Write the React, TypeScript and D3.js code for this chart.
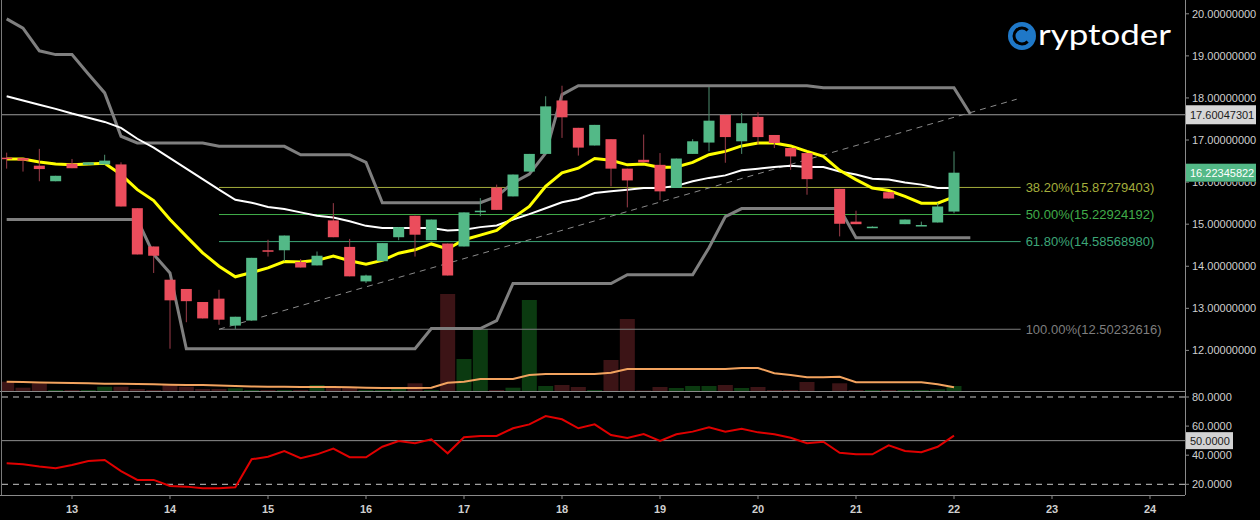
import React from "react";
import * as d3 from "d3";

const W = 1260;
const H = 520;

// 4h candles, the first one opens on day 12 at 08:00
const firstCandleDay = 12 + 8 / 24;
const candleStep = 4 / 24;

const opens: (number | null)[] = [
  16.58, 16.57, 16.39, 16.02, 16.44, 16.41, 16.42, 16.42, 15.38, 14.47,
  13.68, 13.46, 13.15, 13.23, 12.59, 12.71, 14.38, 14.38, 14.1, 14.02,
  15.09, 14.46, 13.64, 14.12, 14.69, 15.2, 14.62, 14.54, 14.47, 15.29,
  15.87, 15.66, 16.25, 16.67, 17.94, 17.29, 16.87, 17.02, 16.32, 16.53,
  16.41, 15.86, 16.67, 16.94, 17.6, 16.97, 17.55, 17.12, 16.81, 16.69,
  null, 15.84, 15.06, 14.93, 15.76, 15.0, 14.97, 15.04, 15.3,
];
const highs: (number | null)[] = [
  16.7, 16.58, 16.79, 16.15, 16.55, 16.47, 16.65, 16.47, 15.38, 14.47,
  13.68, 13.46, 13.15, 13.44, 12.8, 14.2, 14.63, 14.73, 14.17, 14.35,
  15.5, 14.65, 13.8, 14.55, 14.93, 15.2, 15.11, 14.54, 15.28, 15.62,
  15.94, 16.18, 16.67, 18.04, 18.29, 17.29, 17.36, 17.02, 16.32, 17.13,
  16.69, 16.56, 17.02, 18.26, 17.6, 17.64, 17.66, 17.12, 16.81, 16.69,
  null, 15.84, 15.32, 14.95, 15.76, 15.11, 15.06, 15.5, 16.73,
];
const lows: (number | null)[] = [
  16.32, 16.25, 16.02, 16.02, 16.33, 16.41, 16.42, 15.42, 14.28, 13.84,
  12.04, 12.67, 12.76, 12.61, 12.51, 12.71, 14.23, 14.12, 13.97, 14.02,
  14.69, 13.76, 13.6, 14.12, 14.62, 14.23, 14.62, 13.78, 14.47, 15.19,
  15.34, 15.66, 16.25, 16.67, 17.05, 16.63, 16.87, 15.9, 15.4, 16.47,
  15.57, 15.86, 16.67, 16.73, 16.46, 16.67, 16.89, 16.81, 16.29, 15.7,
  null, 14.71, 15.0, 14.93, 15.61, 15.0, 14.97, 15.04, 15.26,
];
const closes: (number | null)[] = [
  16.56, 16.51, 16.31, 16.15, 16.33, 16.47, 16.51, 15.42, 14.28, 14.25,
  13.19, 13.17, 12.76, 12.73, 12.8, 14.2, 14.36, 14.73, 13.97, 14.25,
  14.69, 13.76, 13.78, 14.55, 14.93, 14.75, 15.11, 13.78, 15.28, 15.32,
  15.34, 16.18, 16.67, 17.8, 17.54, 16.82, 17.36, 16.32, 16.04, 16.47,
  15.78, 16.56, 16.97, 17.46, 17.07, 17.4, 17.07, 16.93, 16.61, 16.07,
  null, 15.01, 15.0, 14.94, 15.61, 15.11, 14.98, 15.42, 16.22345822,
];
const volumes: (number | null)[] = [
  93, 33, 77, 10, 10, 10, 43, 43, 20, 10,
  60, 43, 20, 20, 27, 10, 10, 10, 10, 60,
  30, 30, 10, 10, 20, 77, 10, 970, 320, 620,
  10, 33, 910, 50, 60, 40, 10, 310, 720, 5,
  40, 30, 50, 50, 60, 30, 40, 10, 10, 90,
  null, 77, 10, 10, 10, 10, 10, 17, 50,
];
const volumeMa = [
  93, 90, 85, 83, 80, 77, 73, 73, 70, 67,
  63, 60, 60, 55, 50, 45, 43, 43, 40, 40,
  40, 37, 32, 30, 30, 30, 32, 83, 93, 120,
  120, 120, 160, 170, 170, 170, 170, 183, 220, 220,
  220, 220, 220, 220, 220, 230, 230, 177, 160, 137,
  137, 143, 87, 87, 87, 87, 87, 67, 37,
];
const emaFast = [
  16.55, 16.55, 16.48, 16.43, 16.41, 16.43, 16.45, 16.18, 15.82, 15.56,
  15.11, 14.71, 14.32, 14.0, 13.75, 13.85, 13.96, 14.11, 14.1, 14.14,
  14.24, 14.13, 14.05, 14.14, 14.31, 14.39, 14.53, 14.41, 14.63, 14.74,
  14.85, 15.15, 15.42, 15.9, 16.22, 16.33, 16.56, 16.52, 16.41, 16.43,
  16.35, 16.36, 16.47, 16.65, 16.73, 16.86, 16.93, 16.93, 16.86, 16.73,
  16.61, 16.28, 16.06, 15.86, 15.8, 15.66, 15.5, 15.5, 15.65,
];
const smaSlow = [
  18.04, 17.94, 17.84, 17.74, 17.63, 17.53, 17.43, 17.29, 17.03, 16.82,
  16.57, 16.32, 16.07, 15.82, 15.58, 15.51, 15.41, 15.36, 15.28, 15.2,
  15.16, 15.07, 14.96, 14.91, 14.91, 14.91, 14.91, 14.85, 14.87, 14.93,
  14.97, 15.11, 15.24, 15.38, 15.52, 15.6, 15.74, 15.78, 15.82, 15.86,
  15.86, 15.91, 16.02, 16.1, 16.16, 16.28, 16.32, 16.36, 16.39, 16.36,
  16.36, 16.25, 16.18, 16.08, 16.06, 15.99, 15.94, 15.86, 15.86,
];
const channelUpper = [
  19.88, 19.66, 19.12, 19.03, 19.03, 18.57, 18.12, 17.09, 16.93, 16.93,
  16.93, 16.93, 16.93, 16.85, 16.85, 16.85, 16.85, 16.85, 16.65, 16.65,
  16.65, 16.65, 16.47, 15.51, 15.51, 15.51, 15.51, 15.51, 15.51, 15.51,
  15.66, 15.98, 16.19, 16.69, 18.08, 18.29, 18.29, 18.29, 18.29, 18.29,
  18.29, 18.29, 18.29, 18.29, 18.29, 18.29, 18.29, 18.29, 18.29, 18.29,
  18.24, 18.24, 18.24, 18.24, 18.24, 18.24, 18.24, 18.24, 18.24, 17.62,
];
const channelLower = [
  15.11, 15.11, 15.11, 15.11, 15.11, 15.11, 15.11, 15.11, 15.11, 14.28,
  13.84, 12.04, 12.04, 12.04, 12.04, 12.04, 12.04, 12.04, 12.04, 12.04,
  12.04, 12.04, 12.04, 12.04, 12.04, 12.04, 12.52, 12.52, 12.52, 12.52,
  12.71, 13.59, 13.59, 13.59, 13.59, 13.59, 13.59, 13.59, 13.8, 13.8,
  13.8, 13.8, 13.8, 14.44, 15.18, 15.37, 15.37, 15.37, 15.37, 15.37,
  15.37, 15.37, 14.68, 14.68, 14.68, 14.68, 14.68, 14.68, 14.68, 14.68,
];
const rsi = [
  34.4, 33.7, 32.2, 31.0, 33.3, 36.0, 36.7, 29.1, 23.0, 23.0,
  18.8, 18.4, 17.3, 17.3, 17.9, 37.2, 39.0, 42.9, 37.9, 40.6,
  44.5, 38.6, 38.6, 45.8, 49.8, 48.2, 50.9, 41.3, 52.3, 53.2,
  53.2, 58.5, 61.2, 66.9, 64.7, 58.5, 61.2, 53.9, 51.8, 54.6,
  49.8, 54.4, 56.2, 59.2, 56.2, 58.2, 55.7, 54.4, 52.0, 48.2,
  49.3, 41.7, 40.6, 40.6, 46.8, 42.9, 42.0, 45.8, 53.4,
];

const days = [13, 14, 15, 16, 17, 18, 19, 20, 21, 22, 23, 24];
const priceTicks = [20, 19, 18, 17, 16, 15, 14, 13, 12];
const rsiTicks = [80, 60, 40, 20];
const rsiGuides = [80, 20];
const rsiMid = 50;

const fibLevels = [
  { label: "38.20%", value: 15.87279403, color: "#a4ae3c" },
  { label: "50.00%", value: 15.22924192, color: "#40ad4a" },
  { label: "61.80%", value: 14.5856898, color: "#3ca677" },
  { label: "100.00%", value: 12.50232616, color: "#7e7e7e" },
];
const fibStartDay = 14.5;
const fibEndDay = 22.68;

const trendStart = { day: 14.5, price: 12.50232616 };
const trendEnd = { day: 22.64, price: 17.97 };

const markLevel = 17.60047301;
const lastPrice = 16.22345822;

const UP = "#53b987";
const DOWN = "#eb4d5c";
const FONT = "'Liberation Sans', Arial, sans-serif";

export default function App() {
  const plotLeft = 2;
  const plotRight = 1185;
  const mainBottom = 391;
  const rsiBottom = 495;

  const x = d3.scaleLinear().domain([13, 24]).range([72, 1150]);
  const y = d3.scaleLinear().domain([12, 20]).range([350.4, 13.8]);
  const yVol = d3.scaleLinear().domain([0, 1000]).range([mainBottom, 291]);
  const yRsi = d3.scaleLinear().domain([20, 80]).range([484.3, 397]);

  const xi = (i: number) => x(firstCandleDay + i * candleStep);

  const lineOf = (scale: d3.ScaleLinear<number, number>) =>
    d3
      .line<number | null>()
      .defined((v) => v != null)
      .x((_, i) => xi(i))
      .y((v) => scale(v as number));

  const priceLine = lineOf(y);
  const volLine = lineOf(yVol);
  const rsiLine = lineOf(yRsi);

  const logoArc = d3
    .arc()
    .innerRadius(6.5)
    .outerRadius(9.5)
    .startAngle(Math.PI * 0.75)
    .endAngle(Math.PI * 2.25);

  // the last-price tag hides the upper half of the 16 tick label, as in the source
  const lastTagTop = y(lastPrice) - 9;
  const lastTagBottom = y(lastPrice) + 9;

  return (
    <div style={{ position: "absolute", left: 0, top: 0, width: W, height: H, background: "#000" }}>
      <svg width={W} height={H} style={{ display: "block" }}>
        <rect x={0} y={0} width={W} height={H} fill="#000" />
        <defs>
          <clipPath id="mainClip">
            <rect x={plotLeft} y={0} width={plotRight - plotLeft} height={mainBottom} />
          </clipPath>
          <clipPath id="belowTag">
            <rect x={plotRight} y={lastTagBottom} width={W - plotRight} height={mainBottom - lastTagBottom} />
          </clipPath>
        </defs>

        <g clipPath="url(#mainClip)">
          {/* volume */}
          {volumes.map((v, i) =>
            v == null ? null : (
              <rect
                key={"v" + i}
                x={xi(i) - 7.5}
                y={yVol(v)}
                width={15}
                height={mainBottom - yVol(v)}
                fill={(closes[i] as number) >= (opens[i] as number) ? "#0b3a10" : "#3c1416"}
              />
            )
          )}
          <path d={volLine(volumeMa) || ""} fill="none" stroke="#f2a35f" strokeWidth={2} />

          {/* levels */}
          <line x1={plotLeft} x2={plotRight} y1={y(markLevel)} y2={y(markLevel)} stroke="#9c9c9c" strokeWidth={1} />
          {fibLevels.map((f) => (
            <g key={f.label}>
              <line x1={x(fibStartDay)} x2={x(fibEndDay)} y1={y(f.value)} y2={y(f.value)} stroke={f.color} strokeWidth={1} />
              <text x={x(fibEndDay) + 5} y={y(f.value) + 4.5} fill={f.color} fontSize={13} fontFamily={FONT}>
                {`${f.label}(${f.value.toFixed(8)})`}
              </text>
            </g>
          ))}

          {/* channel */}
          <path d={priceLine(channelUpper) || ""} fill="none" stroke="#7f7f7f" strokeWidth={3} />
          <path d={priceLine(channelLower) || ""} fill="none" stroke="#7f7f7f" strokeWidth={3} />

          {/* trend */}
          <line
            x1={x(trendStart.day)}
            y1={y(trendStart.price)}
            x2={x(trendEnd.day)}
            y2={y(trendEnd.price)}
            stroke="#8a8a8a"
            strokeWidth={1}
            strokeDasharray="6,5"
          />

          <path d={priceLine(smaSlow) || ""} fill="none" stroke="#ffffff" strokeWidth={2} />
          <path d={priceLine(emaFast) || ""} fill="none" stroke="#ffff00" strokeWidth={3} />

          {/* candles */}
          {opens.map((o, i) => {
            if (o == null) return null;
            const c = closes[i] as number;
            const hi = highs[i] as number;
            const lo = lows[i] as number;
            const up = c >= o;
            const top = y(Math.max(o, c));
            const bh = Math.max(1.5, y(Math.min(o, c)) - top);
            return (
              <g key={"c" + i}>
                <line x1={xi(i)} x2={xi(i)} y1={y(hi)} y2={y(lo)} stroke={up ? "#4f8f70" : "#9b3d4a"} strokeWidth={1} />
                <rect x={xi(i) - 5.5} y={top} width={11} height={bh} fill={up ? UP : DOWN} />
              </g>
            );
          })}
        </g>

        {/* logo */}
        <g transform="translate(1022,36)">
          <circle r={14} fill="#1f78c8" />
          <path d={(logoArc as any)() || ""} fill="#000" />
        </g>
        <text x={1038} y={45} fill="#fff" fontSize={29} fontFamily="Lato, 'Noto Sans', sans-serif" textLength={133} lengthAdjust="spacingAndGlyphs">
          ryptoder
        </text>

        {/* RSI panel */}
        {rsiGuides.map((g) => (
          <line key={"g" + g} x1={plotLeft} x2={plotRight} y1={yRsi(g)} y2={yRsi(g)} stroke="#c8c8c8" strokeWidth={1} strokeDasharray="6,5" />
        ))}
        <line x1={plotLeft} x2={plotRight} y1={yRsi(rsiMid)} y2={yRsi(rsiMid)} stroke="#8e8e8e" strokeWidth={1} />
        <path d={rsiLine(rsi) || ""} fill="none" stroke="#e00000" strokeWidth={2} />

        {/* frames */}
        <line x1={0} x2={plotRight} y1={mainBottom + 0.5} y2={mainBottom + 0.5} stroke="#8a8a8a" />
        <line x1={0} x2={plotRight} y1={rsiBottom + 0.5} y2={rsiBottom + 0.5} stroke="#8a8a8a" />
        <line x1={1.5} x2={1.5} y1={0} y2={rsiBottom} stroke="#7a7a7a" />
        <line x1={plotRight + 0.5} x2={plotRight + 0.5} y1={0} y2={rsiBottom} stroke="#8a8a8a" />

        {/* price axis */}
        {priceTicks.map((p) => {
          const hidden = y(p) - 6 < lastTagBottom && y(p) + 6 > lastTagTop;
          return (
            <g key={"p" + p} clipPath={hidden ? "url(#belowTag)" : undefined}>
              <line x1={plotRight} x2={plotRight + 4} y1={y(p)} y2={y(p)} stroke="#8a8a8a" />
              <text x={1192} y={y(p) + 4} fill="#cfcfcf" fontSize={11} fontFamily={FONT}>
                {p.toFixed(8)}
              </text>
            </g>
          );
        })}
        <rect x={plotRight + 1} y={y(markLevel) - 9.5} width={70} height={19} fill="#d6d6d6" />
        <text x={1190} y={y(markLevel) + 4} fill="#1a1a1a" fontSize={11} fontFamily={FONT}>
          {markLevel.toFixed(8)}
        </text>
        <rect x={plotRight + 1} y={lastTagTop} width={70} height={18} fill={UP} />
        <text x={1190} y={y(lastPrice) + 4} fill="#ffffff" fontSize={11} fontFamily={FONT}>
          {lastPrice.toFixed(8)}
        </text>

        {/* rsi axis */}
        {rsiTicks.map((r) => (
          <g key={"r" + r}>
            <line x1={plotRight} x2={plotRight + 4} y1={yRsi(r)} y2={yRsi(r)} stroke="#8a8a8a" />
            <text x={1192} y={yRsi(r) + 4} fill="#cfcfcf" fontSize={11} fontFamily={FONT}>
              {r.toFixed(4)}
            </text>
          </g>
        ))}
        <rect x={plotRight + 1} y={yRsi(rsiMid) - 8.5} width={47} height={17} fill="#d2d2d2" />
        <text x={1190} y={yRsi(rsiMid) + 4} fill="#1a1a1a" fontSize={11} fontFamily={FONT}>
          {rsiMid.toFixed(4)}
        </text>

        {/* time axis */}
        {days.map((d) => (
          <g key={"d" + d}>
            <line x1={x(d)} x2={x(d)} y1={rsiBottom} y2={rsiBottom + 4} stroke="#8a8a8a" />
            <text x={x(d)} y={513} fill="#cfcfcf" fontSize={11} fontWeight="bold" textAnchor="middle" fontFamily={FONT}>
              {d}
            </text>
          </g>
        ))}
      </svg>
    </div>
  );
}
